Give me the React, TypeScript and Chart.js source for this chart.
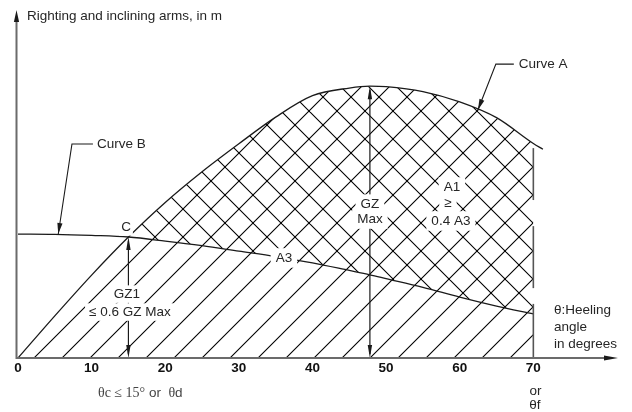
import React, { useEffect, useRef } from "react";
import { Chart, registerables } from "chart.js";

Chart.register(...registerables);

// Heel angle (degrees) at which both arms are tabulated
const angles = [0, 5, 10, 15, 20, 25, 30, 35, 40, 45, 47.8, 50, 55, 60, 65, 70];
// Curve A: righting arm GZ (m)
const curveA = [0, 0.155, 0.305, 0.445, 0.572, 0.685, 0.788, 0.886, 0.965, 0.993, 1.0, 0.998, 0.98, 0.942, 0.884, 0.789];
// Curve A continues a little past the limiting angle
const curveATail = [{ x: 71.3, y: 0.768 }];
// Curve B: inclining (heeling) arm (m)
const curveB = [0.456, 0.455, 0.451, 0.445, 0.43, 0.413, 0.393, 0.373, 0.35, 0.322, 0.306, 0.292, 0.26, 0.224, 0.191, 0.162];

const xTicks = [0, 10, 20, 30, 40, 50, 60, 70];
const xRange = [0, 81.5];
const yRange = [0, 1.28];

const angleC = 15; // point C, where curve B crosses curve A
const gzMaxIndex = 10; // angle of maximum righting arm
const limitAngle = 70; // θf / limiting angle
// visible pieces of the limiting-angle line (arm values, top → bottom)
const limitLinePieces = [
  [0.772, 0.581],
  [0.485, 0.257],
  [0.199, 0],
];

const SANS = '"Liberation Sans", Arial, Helvetica, sans-serif';
const SERIF = '"Liberation Serif", "Times New Roman", serif';
const FS = 13.5;
const INK = "#1a1a1a";
const TEXT = "#262626";

function makeHatch(dir: "/" | "\\"): CanvasPattern {
  const s = 28;
  const c = document.createElement("canvas");
  c.width = s;
  c.height = s;
  const g = c.getContext("2d")!;
  g.strokeStyle = "#000";
  g.lineWidth = 1.1;
  g.beginPath();
  for (let k = -1; k <= 1; k++) {
    if (dir === "/") {
      g.moveTo(-2 + k * s, s + 2);
      g.lineTo(s + 2 + k * s, -2);
    } else {
      g.moveTo(-2 + k * s, -4);
      g.lineTo(s + 2 + k * s, s);
    }
  }
  g.stroke();
  return g.createPattern(c, "repeat")!;
}

function arrowHead(
  ctx: CanvasRenderingContext2D,
  tipX: number,
  tipY: number,
  fromX: number,
  fromY: number,
  len: number,
  half: number
) {
  const a = Math.atan2(tipY - fromY, tipX - fromX);
  const bx = tipX - len * Math.cos(a);
  const by = tipY - len * Math.sin(a);
  ctx.beginPath();
  ctx.moveTo(tipX, tipY);
  ctx.lineTo(bx + half * Math.sin(a), by - half * Math.cos(a));
  ctx.lineTo(bx - half * Math.sin(a), by + half * Math.cos(a));
  ctx.closePath();
  ctx.fill();
}

const stabilityAnnotations = {
  id: "stabilityAnnotations",
  afterDatasetsDraw(chart: any) {
    const ctx: CanvasRenderingContext2D = chart.ctx;
    const X = (v: number) => chart.scales.x.getPixelForValue(v);
    const Y = (v: number) => chart.scales.y.getPixelForValue(v);
    ctx.save();

    // limiting angle line
    ctx.strokeStyle = "#555";
    ctx.lineWidth = 1.6;
    for (const [top, bottom] of limitLinePieces) {
      ctx.beginPath();
      ctx.moveTo(X(limitAngle), Y(top));
      ctx.lineTo(X(limitAngle), Y(bottom));
      ctx.stroke();
    }

    // GZ Max double arrow
    ctx.strokeStyle = INK;
    ctx.fillStyle = INK;
    ctx.lineWidth = 1.2;
    const gx = X(angles[gzMaxIndex]);
    const gTop = Y(curveA[gzMaxIndex]);
    const gBot = Y(0);
    ctx.beginPath();
    ctx.moveTo(gx, gTop + 4);
    ctx.lineTo(gx, gBot - 4);
    ctx.stroke();
    arrowHead(ctx, gx, gTop, gx, gTop + 20, 13, 2.2);
    arrowHead(ctx, gx, gBot, gx, gBot - 20, 13, 2.2);

    // GZ1 double arrow at C
    const cIdx = angles.indexOf(angleC);
    const cx = X(angleC);
    const cTop = Y(curveA[cIdx]);
    ctx.beginPath();
    ctx.moveTo(cx, cTop + 4);
    ctx.lineTo(cx, gBot - 4);
    ctx.stroke();
    arrowHead(ctx, cx, cTop, cx, cTop + 20, 13, 2.2);
    arrowHead(ctx, cx, gBot, cx, gBot - 20, 13, 2.2);

    // leaders
    ctx.lineWidth = 1.1;
    const leaders = [
      { tip: [5.47, 0.456], elbow: [7.33, 0.787], end: 10.18 },
      { tip: [62.47, 0.912], elbow: [64.91, 1.081], end: 67.35 },
    ];
    for (const l of leaders) {
      const tx = X(l.tip[0]);
      const ty = Y(l.tip[1]);
      const ex = X(l.elbow[0]);
      const ey = Y(l.elbow[1]);
      ctx.beginPath();
      ctx.moveTo(X(l.end), ey);
      ctx.lineTo(ex, ey);
      ctx.lineTo(tx, ty);
      ctx.stroke();
      arrowHead(ctx, tx, ty, ex, ey, 11, 2.6);
    }

    // labels set inside the hatching, on white
    ctx.font = `${FS}px ${SANS}`;
    ctx.textAlign = "center";
    ctx.textBaseline = "middle";
    const inner: [string, number, number, number, number][] = [
      ["C", 14.67, 0.482, 2, 2],
      ["GZ1", 14.8, 0.235, 4, 2],
      ["≤ 0.6 GZ Max", 15.2, 0.169, 4, 2],
      ["GZ", 47.8, 0.566, 5, 3],
      ["Max", 47.8, 0.511, 5, 3],
      ["A1", 58.94, 0.629, 5, 3],
      ["≥", 58.4, 0.57, 5, 3],
      ["0.4 A3", 58.8, 0.504, 5, 3],
      ["A3", 36.12, 0.368, 5, 3],
    ];
    ctx.fillStyle = "#fff";
    for (const [t, a, v, px, py] of inner) {
      const w = ctx.measureText(t).width;
      ctx.fillRect(X(a) - w / 2 - px, Y(v) - FS / 2 - py, w + 2 * px, FS + 2 * py);
    }
    ctx.fillStyle = TEXT;
    for (const [t, a, v] of inner) ctx.fillText(t, X(a), Y(v) + 0.5);

    // other labels
    ctx.textAlign = "left";
    ctx.fillText("Curve B", X(10.73), Y(0.787) + 0.5);
    ctx.fillText("Curve A", X(68.03), Y(1.081) + 0.5);
    ctx.fillText("Righting and inclining arms, in m", X(1.22), Y(1.257) + 0.5);
    ctx.fillText("θ:Heeling", X(72.79), Y(0.176) + 0.5);
    ctx.fillText("angle", X(72.79), Y(0.114) + 0.5);
    ctx.fillText("in degrees", X(72.79), Y(0.051) + 0.5);

    ctx.textAlign = "center";
    ctx.fillText("or", X(70.3), Y(-0.121));
    ctx.fillText("θf", X(70.2), Y(-0.173));

    // θc ≤ 15° or θd
    const parts: [string, string][] = [
      ["θc ≤ 15°", `${FS + 0.5}px ${SERIF}`],
      [" or  ", `${FS}px ${SANS}`],
      ["θ", `${FS + 0.5}px ${SERIF}`],
      ["d", `${FS}px ${SANS}`],
    ];
    ctx.textAlign = "left";
    ctx.fillStyle = "#444";
    let lx = X(10.86);
    for (const [t, f] of parts) {
      ctx.font = f;
      ctx.fillText(t, lx, Y(-0.129));
      lx += ctx.measureText(t).width;
    }

    // axes
    const x0 = X(0) - 1.5;
    const y0 = Y(0);
    ctx.strokeStyle = "#6b6b6b";
    ctx.lineWidth = 2;
    ctx.beginPath();
    ctx.moveTo(x0, y0);
    ctx.lineTo(x0, Y(yRange[1]) + 10);
    ctx.moveTo(x0 - 1, y0);
    ctx.lineTo(X(xRange[1]) - 12, y0);
    ctx.stroke();
    ctx.fillStyle = INK;
    arrowHead(ctx, x0, Y(yRange[1]), x0, y0, 12, 2.6);
    arrowHead(ctx, X(xRange[1]), y0, x0, y0, 14, 2.6);

    // tick labels
    ctx.font = `bold ${FS}px ${SANS}`;
    ctx.textAlign = "center";
    ctx.fillStyle = "#111";
    for (const t of xTicks) ctx.fillText(String(t), X(t), Y(-0.0386));

    ctx.restore();
  },
};

export default function App() {
  const ref = useRef<HTMLCanvasElement>(null);

  useEffect(() => {
    const canvas = ref.current;
    if (!canvas) return;
    const slash = makeHatch("/");
    const back = makeHatch("\\");
    const ptsA = angles.map((a, i) => ({ x: a, y: curveA[i] }));
    const ptsB = angles.map((a, i) => ({ x: a, y: curveB[i] }));

    const chart = new Chart(canvas, {
      type: "line",
      data: {
        datasets: [
          {
            label: "Curve A",
            data: [...ptsA, ...curveATail],
            borderColor: INK,
            borderWidth: 1.3,
            fill: false,
            pointRadius: 0,
            cubicInterpolationMode: "monotone",
          },
          {
            label: "Curve B",
            data: ptsB,
            borderColor: INK,
            borderWidth: 1.3,
            fill: false,
            pointRadius: 0,
            cubicInterpolationMode: "monotone",
          },
          {
            label: "A3",
            data: ptsA,
            borderColor: "rgba(0,0,0,0)",
            borderWidth: 0,
            backgroundColor: slash,
            fill: "origin",
            pointRadius: 0,
            cubicInterpolationMode: "monotone",
          },
          {
            label: "A1",
            data: ptsA,
            borderColor: "rgba(0,0,0,0)",
            borderWidth: 0,
            fill: { target: 1, above: back, below: "rgba(0,0,0,0)" },
            pointRadius: 0,
            cubicInterpolationMode: "monotone",
          },
        ],
      } as any,
      options: {
        animation: false,
        responsive: false,
        devicePixelRatio: 1,
        events: [],
        layout: { padding: { left: 18, right: 14, top: 10, bottom: 54 } },
        scales: {
          x: { type: "linear", min: xRange[0], max: xRange[1], display: false },
          y: { type: "linear", min: yRange[0], max: yRange[1], display: false },
        },
        plugins: { legend: { display: false }, tooltip: { enabled: false } },
      },
      plugins: [stabilityAnnotations],
    });
    return () => chart.destroy();
  }, []);

  return (
    <div style={{ position: "fixed", left: 0, top: 0, width: 632, height: 412, background: "#fff" }}>
      <canvas ref={ref} width={632} height={412} style={{ display: "block", width: 632, height: 412 }} />
    </div>
  );
}
